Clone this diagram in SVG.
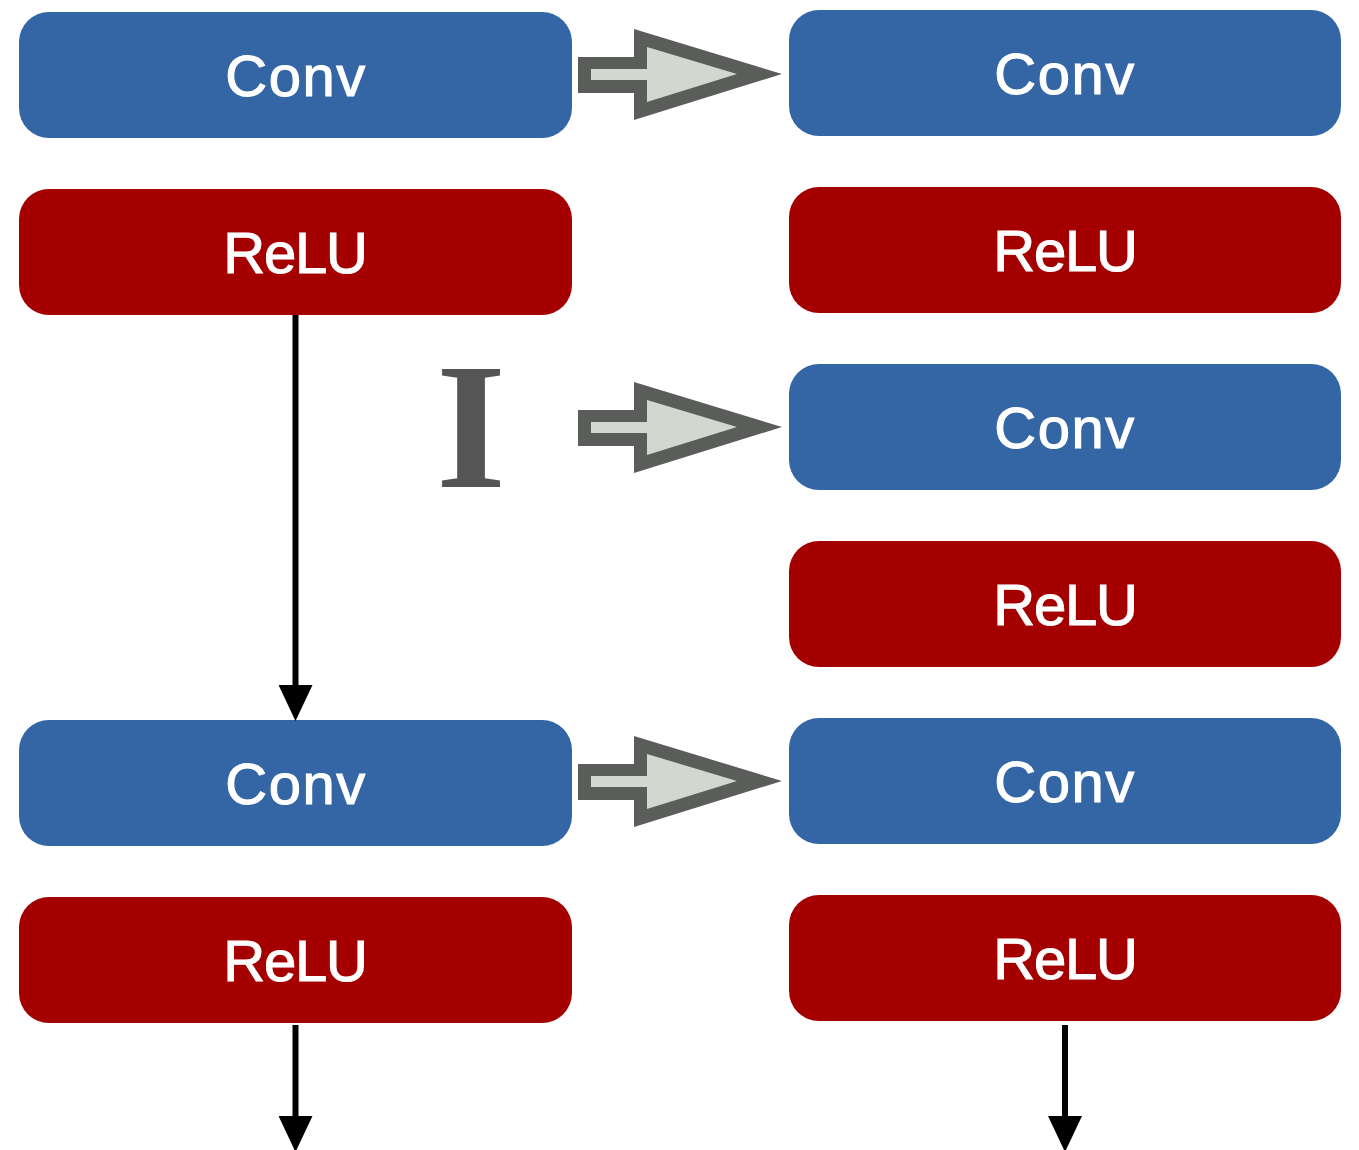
<svg xmlns="http://www.w3.org/2000/svg" width="1359" height="1150" viewBox="0 0 1359 1150">
  <style>
    .conv { fill: #3465a4; }
    .relu { fill: #a40000; }
    .lbl { font-family: "Liberation Sans", Arial, sans-serif; font-size: 58px; fill: #ffffff; stroke: #ffffff; stroke-width: 1.1; text-anchor: middle; }
    .c { letter-spacing: 1.5px; }
    .r { letter-spacing: -1.2px; }
    .flow { stroke: #000000; stroke-width: 6; fill: none; }
    .outer { fill: #5a5d5a; }
    .inner { fill: #d3d7cf; }
  </style>
  <defs>
    <marker id="head" viewBox="0 0 36 34" refX="0" refY="17" markerWidth="36" markerHeight="34" markerUnits="userSpaceOnUse" orient="auto">
      <path d="M0,0 L36,17 L0,34 Z" fill="#000000"/>
    </marker>
    <!-- hollow block arrow, drawn with its tip at the origin pointing right -->
    <g id="blockArrow">
      <path class="outer" d="M-204,-17 L-148,-17 L-148,-45 L0,0 L-148,46 L-148,19 L-204,19 Z"/>
      <path class="inner" d="M-191,-5 L-135,-5 L-135,-27 L-45,0 L-135,28 L-135,6 L-191,6 Z"/>
    </g>
  </defs>

  <!-- left column -->
  <g id="conv-l1"><rect class="conv" x="19" y="12" width="553" height="126" rx="30"/><text class="lbl c" x="296" y="96">Conv</text></g>
  <g id="relu-l1"><rect class="relu" x="19" y="189" width="553" height="126" rx="30"/><text class="lbl r" x="295" y="273">ReLU</text></g>
  <g id="conv-l2"><rect class="conv" x="19" y="720" width="553" height="126" rx="30"/><text class="lbl c" x="296" y="804">Conv</text></g>
  <g id="relu-l2"><rect class="relu" x="19" y="897" width="553" height="126" rx="30"/><text class="lbl r" x="295" y="981">ReLU</text></g>

  <!-- right column -->
  <g id="conv-r1"><rect class="conv" x="789" y="10" width="552" height="126" rx="30"/><text class="lbl c" x="1065" y="94">Conv</text></g>
  <g id="relu-r1"><rect class="relu" x="789" y="187" width="552" height="126" rx="30"/><text class="lbl r" x="1065" y="271">ReLU</text></g>
  <g id="conv-r2"><rect class="conv" x="789" y="364" width="552" height="126" rx="30"/><text class="lbl c" x="1065" y="448">Conv</text></g>
  <g id="relu-r2"><rect class="relu" x="789" y="541" width="552" height="126" rx="30"/><text class="lbl r" x="1065" y="625">ReLU</text></g>
  <g id="conv-r3"><rect class="conv" x="789" y="718" width="552" height="126" rx="30"/><text class="lbl c" x="1065" y="802">Conv</text></g>
  <g id="relu-r3"><rect class="relu" x="789" y="895" width="552" height="126" rx="30"/><text class="lbl r" x="1065" y="979">ReLU</text></g>

  <!-- identity label -->
  <g id="identity">
    <text x="471" y="487" font-family="Liberation Serif, 'Times New Roman', serif" font-weight="bold" font-size="180" fill="#555555" text-anchor="middle">I</text>
  </g>

  <!-- connectors -->
  <g id="connectors">
    <line class="flow" x1="295.5" y1="315" x2="295.5" y2="685" marker-end="url(#head)"/>
    <line class="flow" x1="295.5" y1="1025" x2="295.5" y2="1116" marker-end="url(#head)"/>
    <line class="flow" x1="1065" y1="1025" x2="1065" y2="1116" marker-end="url(#head)"/>
    <use href="#blockArrow" x="782" y="74"/>
    <use href="#blockArrow" x="782" y="427"/>
    <use href="#blockArrow" x="782" y="781"/>
  </g>
</svg>
